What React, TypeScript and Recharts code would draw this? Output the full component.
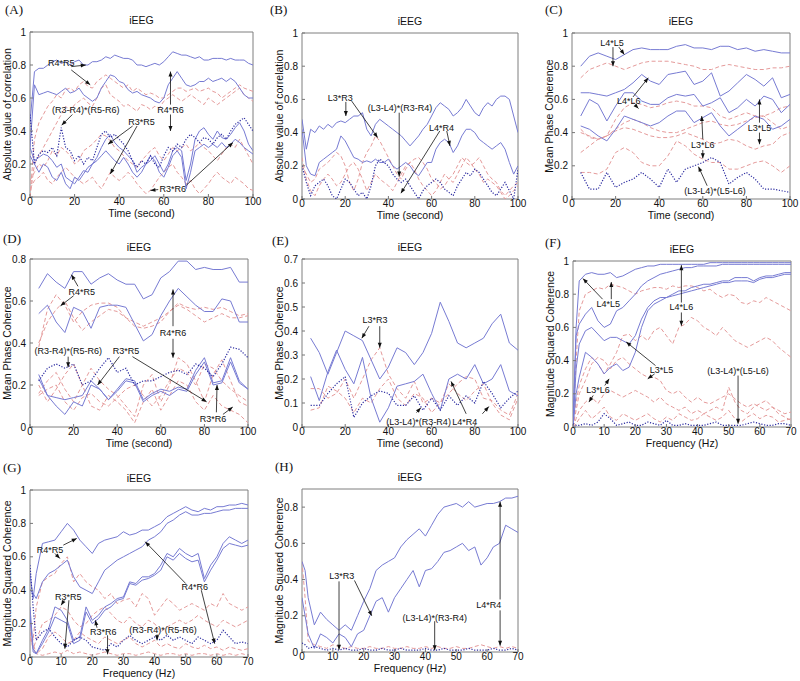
import React from 'react';
import {
  LineChart, Line, XAxis, YAxis, ReferenceArea, ReferenceLine, ReferenceDot,
} from 'recharts';

const BLUE = '#777bd3';
const RED = '#e59a9a';
const DOT = '#2b2ba0';
const SANS = "'Liberation Sans', Arial, sans-serif";
const SERIF = "'Liberation Serif', 'Times New Roman', serif";

// x grids
const tFine = [0, 2, 4, 6, 8, 10, 12, 14, 16, 18, 20, 22, 24, 26, 28, 30, 32, 34, 36, 38, 40, 42, 44, 46, 48, 50,
  52, 54, 56, 58, 60, 62, 64, 66, 68, 70, 72, 74, 76, 78, 80, 82, 84, 86, 88, 90, 92, 94, 96, 98, 100];
const tCoarse = [4, 8, 12, 16, 20, 24, 28, 32, 36, 40, 44, 48, 52, 56, 60, 64, 68, 72, 76, 80, 84, 88, 92, 96, 100];
const freq = [0, 1, 2, 4, 6, 8, 10, 12, 14, 16, 18, 20, 22, 24, 26, 28, 30, 32, 34, 36, 38, 40, 42, 44, 46, 48, 50,
  52, 54, 56, 58, 60, 62, 64, 66, 68, 70];

const timeTicks = [0, 20, 40, 60, 80, 100];
const freqTicks = [0, 10, 20, 30, 40, 50, 60, 70];
const unitTicks = [0, 0.2, 0.4, 0.6, 0.8, 1];
const dTicks = [0, 0.2, 0.4, 0.6, 0.8];
const eTicks = [0, 0.1, 0.2, 0.3, 0.4, 0.5, 0.6, 0.7];

// (A) absolute correlation, R contacts
const aR4R5 = [0.45, 0.76, 0.78, 0.78, 0.8, 0.82, 0.83, 0.81, 0.82, 0.8, 0.82, 0.83, 0.8, 0.8, 0.82, 0.82, 0.83, 0.85, 0.84, 0.86,
  0.85, 0.84, 0.84, 0.83, 0.8, 0.8, 0.79, 0.8, 0.81, 0.8, 0.82, 0.85, 0.88, 0.87, 0.86, 0.86, 0.85, 0.84, 0.85, 0.83,
  0.83, 0.84, 0.84, 0.84, 0.83, 0.84, 0.83, 0.83, 0.83, 0.81, 0.8];
const aR4R6 = [0.3, 0.68, 0.62, 0.63, 0.64, 0.63, 0.62, 0.64, 0.66, 0.63, 0.64, 0.66, 0.62, 0.6, 0.58, 0.6, 0.66, 0.7, 0.74, 0.73,
  0.7, 0.69, 0.65, 0.63, 0.64, 0.62, 0.61, 0.6, 0.58, 0.57, 0.6, 0.68, 0.72, 0.76, 0.72, 0.68, 0.67, 0.68, 0.7, 0.7,
  0.72, 0.7, 0.71, 0.72, 0.7, 0.72, 0.7, 0.66, 0.62, 0.6, 0.6];
const aR4R5r = [0, 0.35, 0.45, 0.5, 0.55, 0.58, 0.62, 0.6, 0.65, 0.66, 0.64, 0.68, 0.7, 0.67, 0.66, 0.7, 0.72, 0.74, 0.72, 0.7,
  0.68, 0.66, 0.68, 0.64, 0.66, 0.64, 0.62, 0.63, 0.62, 0.6, 0.6, 0.62, 0.64, 0.66, 0.66, 0.64, 0.65, 0.66, 0.64, 0.65,
  0.66, 0.64, 0.63, 0.6, 0.62, 0.64, 0.66, 0.68, 0.66, 0.65, 0.64];
const aR4R6r = [0, 0.2, 0.25, 0.3, 0.35, 0.4, 0.45, 0.5, 0.55, 0.52, 0.56, 0.58, 0.6, 0.57, 0.55, 0.6, 0.66, 0.68, 0.62, 0.6,
  0.58, 0.55, 0.56, 0.54, 0.52, 0.56, 0.55, 0.53, 0.55, 0.54, 0.58, 0.6, 0.62, 0.6, 0.58, 0.6, 0.62, 0.6, 0.58, 0.56,
  0.6, 0.58, 0.56, 0.58, 0.6, 0.62, 0.64, 0.66, 0.62, 0.6, 0.58];
const aDiff = [0.5, 0.2, 0.26, 0.28, 0.27, 0.3, 0.25, 0.42, 0.3, 0.28, 0.22, 0.25, 0.2, 0.24, 0.22, 0.3, 0.38, 0.4, 0.36, 0.38,
  0.35, 0.32, 0.28, 0.22, 0.18, 0.22, 0.2, 0.25, 0.2, 0.18, 0.25, 0.3, 0.28, 0.32, 0.3, 0.35, 0.38, 0.36, 0.33, 0.36,
  0.35, 0.32, 0.36, 0.38, 0.35, 0.4, 0.44, 0.46, 0.48, 0.44, 0.4];
const aR3R5 = [0.3, 0.22, 0.24, 0.26, 0.25, 0.22, 0.18, 0.2, 0.12, 0.1, 0.08, 0.12, 0.16, 0.15, 0.2, 0.24, 0.3, 0.35, 0.38, 0.33,
  0.3, 0.28, 0.25, 0.22, 0.15, 0.18, 0.2, 0.22, 0.25, 0.2, 0.15, 0.2, 0.28, 0.3, 0.28, 0.1, 0.2, 0.35, 0.4, 0.42,
  0.38, 0.35, 0.4, 0.36, 0.35, 0.38, 0.42, 0.45, 0.4, 0.32, 0.28];
const aR3R6 = [0.25, 0.2, 0.15, 0.2, 0.18, 0.12, 0.1, 0.15, 0.08, 0.05, 0.12, 0.1, 0.14, 0.18, 0.2, 0.22, 0.25, 0.28, 0.25, 0.22,
  0.2, 0.24, 0.2, 0.15, 0.12, 0.15, 0.2, 0.25, 0.22, 0.15, 0.12, 0.18, 0.25, 0.28, 0.24, 0.05, 0.15, 0.28, 0.3, 0.32,
  0.3, 0.32, 0.3, 0.33, 0.3, 0.32, 0.35, 0.33, 0.3, 0.28, 0.26];
const aR3R5r = [0.1, 0.15, 0.2, 0.18, 0.22, 0.28, 0.25, 0.3, 0.28, 0.25, 0.2, 0.22, 0.28, 0.3, 0.32, 0.35, 0.38, 0.37, 0.34, 0.3,
  0.28, 0.25, 0.22, 0.2, 0.18, 0.22, 0.25, 0.28, 0.3, 0.25, 0.22, 0.26, 0.3, 0.28, 0.3, 0.32, 0.28, 0.3, 0.33, 0.3,
  0.28, 0.25, 0.22, 0.26, 0.3, 0.32, 0.3, 0.35, 0.3, 0.25, 0.2];
const aR3R6r = [0.05, 0.1, 0.12, 0.15, 0.1, 0.08, 0.12, 0.15, 0.18, 0.15, 0.12, 0.1, 0.08, 0.1, 0.12, 0.08, 0.05, 0.1, 0.15, 0.12,
  0.1, 0.12, 0.15, 0.12, 0.08, 0.05, 0.02, 0.04, 0.08, 0.12, 0.15, 0.18, 0.2, 0.15, 0.12, 0.08, 0.1, 0.05, 0.02, 0.05,
  0.08, 0.12, 0.15, 0.12, 0.1, 0.08, 0.12, 0.1, 0.08, 0.05, 0.04];

// (B) absolute correlation, L x R
const bL3R3 = [0.48, 0.3, 0.42, 0.4, 0.44, 0.42, 0.45, 0.43, 0.46, 0.47, 0.46, 0.48, 0.5, 0.5, 0.52, 0.42, 0.38, 0.45, 0.48, 0.46,
  0.44, 0.42, 0.4, 0.38, 0.35, 0.32, 0.35, 0.38, 0.42, 0.45, 0.5, 0.55, 0.58, 0.56, 0.54, 0.5, 0.52, 0.55, 0.6, 0.56,
  0.52, 0.5, 0.55, 0.58, 0.56, 0.6, 0.62, 0.62, 0.6, 0.5, 0.4];
const bL4R4 = [0.42, 0.2, 0.15, 0.14, 0.22, 0.24, 0.26, 0.28, 0.3, 0.38, 0.35, 0.3, 0.25, 0.24, 0.22, 0.23, 0.22, 0.24, 0.22, 0.22,
  0.24, 0.2, 0.18, 0.2, 0.22, 0.2, 0.16, 0.14, 0.18, 0.22, 0.22, 0.3, 0.34, 0.36, 0.34, 0.28, 0.32, 0.38, 0.42, 0.42,
  0.4, 0.36, 0.34, 0.32, 0.3, 0.32, 0.34, 0.3, 0.22, 0.15, 0.2];
const bDiff = [0.2, 0.1, 0.02, 0.08, 0.1, 0.12, 0.08, 0.02, 0, 0.06, 0.12, 0.1, 0.06, 0.02, 0.04, 0, 0.08, 0.2, 0.24, 0.22,
  0.2, 0.15, 0.12, 0.1, 0.12, 0.08, 0.04, 0, 0.05, 0.08, 0.1, 0.12, 0.1, 0.06, 0.04, 0.02, 0.08, 0.12, 0.16, 0.14,
  0.18, 0.16, 0.12, 0.08, 0.04, 0.02, 0.06, 0.1, 0.05, 0, 0.18];
const bL3R3r = [0.2, 0.15, 0.1, 0.12, 0.18, 0.2, 0.22, 0.25, 0.28, 0.26, 0.2, 0.1, 0.05, 0.12, 0.22, 0.28, 0.32, 0.38, 0.35, 0.3,
  0.25, 0.2, 0.15, 0.12, 0.18, 0.22, 0.24, 0.25, 0.22, 0.18, 0.12, 0.1, 0.06, 0.08, 0.12, 0.15, 0.2, 0.25, 0.22, 0.2,
  0.22, 0.25, 0.2, 0.15, 0.12, 0.1, 0.05, 0.02, 0.05, 0.08, 0.1];
const bL4R4r = [0.25, 0.12, 0.05, 0.02, 0.08, 0.12, 0.15, 0.12, 0.08, 0.1, 0.15, 0.2, 0.22, 0.18, 0.12, 0.05, 0.1, 0.15, 0.12, 0.1,
  0.08, 0.05, 0.1, 0.15, 0.2, 0.22, 0.18, 0.12, 0.08, 0.05, 0.02, 0.05, 0.1, 0.15, 0.12, 0.1, 0.15, 0.2, 0.25, 0.22,
  0.18, 0.15, 0.1, 0.12, 0.1, 0.08, 0.04, 0, 0.02, 0.05, 0.08];

// (C) mean phase coherence, L contacts
const cL4L5 = [0.8, 0.86, 0.88, 0.86, 0.84, 0.87, 0.9, 0.91, 0.9, 0.9, 0.9, 0.92, 0.93, 0.91, 0.91, 0.9, 0.92, 0.92, 0.9, 0.91, 0.89, 0.9, 0.89, 0.88, 0.88];
const cL4L5r = [0.73, 0.78, 0.8, 0.82, 0.8, 0.78, 0.8, 0.82, 0.83, 0.83, 0.83, 0.82, 0.81, 0.8, 0.78, 0.78, 0.8, 0.81, 0.8, 0.79, 0.78, 0.78, 0.79, 0.79, 0.8];
const cL4L6 = [0.64, 0.64, 0.63, 0.62, 0.64, 0.66, 0.7, 0.75, 0.71, 0.69, 0.75, 0.76, 0.77, 0.69, 0.71, 0.76, 0.62, 0.65, 0.7, 0.75, 0.72, 0.68, 0.73, 0.61, 0.63];
const cL3L5 = [0.5, 0.6, 0.57, 0.47, 0.56, 0.64, 0.64, 0.59, 0.57, 0.57, 0.61, 0.63, 0.62, 0.63, 0.56, 0.58, 0.61, 0.52, 0.55, 0.6, 0.56, 0.62, 0.6, 0.52, 0.57];
const cL3L6 = [0.44, 0.42, 0.38, 0.35, 0.42, 0.5, 0.48, 0.46, 0.44, 0.46, 0.5, 0.53, 0.53, 0.46, 0.49, 0.52, 0.44, 0.38, 0.42, 0.46, 0.5, 0.48, 0.42, 0.44, 0.48];
const cL4L6r = [0.42, 0.37, 0.36, 0.38, 0.48, 0.55, 0.58, 0.57, 0.55, 0.56, 0.58, 0.59, 0.58, 0.56, 0.56, 0.55, 0.5, 0.48, 0.5, 0.52, 0.5, 0.5, 0.52, 0.55, 0.56];
const cL3L5r = [0.4, 0.38, 0.36, 0.38, 0.42, 0.46, 0.48, 0.46, 0.43, 0.41, 0.4, 0.4, 0.42, 0.44, 0.46, 0.47, 0.45, 0.44, 0.45, 0.47, 0.49, 0.5, 0.46, 0.42, 0.44];
const cL3L6r = [0.28, 0.32, 0.36, 0.38, 0.41, 0.43, 0.42, 0.4, 0.38, 0.37, 0.37, 0.38, 0.4, 0.38, 0.36, 0.33, 0.34, 0.36, 0.35, 0.32, 0.3, 0.32, 0.33, 0.38, 0.4];
const cDiffR = [0.16, 0.16, 0.15, 0.18, 0.28, 0.31, 0.28, 0.22, 0.2, 0.2, 0.26, 0.35, 0.32, 0.27, 0.24, 0.22, 0.22, 0.18, 0.18, 0.2, 0.22, 0.23, 0.2, 0.16, 0.2];
const cDiff = [0.16, 0.06, 0.06, 0.16, 0.07, 0.1, 0.12, 0.16, 0.12, 0.07, 0.18, 0.1, 0.18, 0.2, 0.22, 0.25, 0.22, 0.09, 0.13, 0.16, 0.12, 0.06, 0.06, 0.05, 0.04];

// (D) mean phase coherence, R contacts
const dR4R5 = [0.66, 0.73, 0.69, 0.66, 0.74, 0.74, 0.68, 0.71, 0.73, 0.7, 0.68, 0.68, 0.61, 0.63, 0.71, 0.74, 0.79, 0.79, 0.75, 0.76, 0.75, 0.75, 0.76, 0.69, 0.69];
const dR4R6 = [0.54, 0.58, 0.5, 0.45, 0.57, 0.55, 0.47, 0.57, 0.58, 0.58, 0.57, 0.49, 0.41, 0.44, 0.53, 0.6, 0.66, 0.62, 0.58, 0.55, 0.55, 0.61, 0.6, 0.5, 0.5];
const dR4R5r = [0.38, 0.56, 0.63, 0.58, 0.5, 0.55, 0.58, 0.59, 0.59, 0.57, 0.52, 0.48, 0.47, 0.48, 0.5, 0.55, 0.59, 0.57, 0.56, 0.57, 0.56, 0.57, 0.55, 0.53, 0.54];
const dR4R6r = [0.4, 0.5, 0.56, 0.6, 0.52, 0.46, 0.5, 0.53, 0.56, 0.55, 0.52, 0.5, 0.48, 0.5, 0.52, 0.55, 0.58, 0.56, 0.53, 0.5, 0.52, 0.54, 0.52, 0.52, 0.53];
const dDiff = [0.22, 0.28, 0.3, 0.28, 0.3, 0.2, 0.22, 0.28, 0.33, 0.26, 0.28, 0.2, 0.22, 0.22, 0.24, 0.26, 0.27, 0.25, 0.3, 0.28, 0.24, 0.3, 0.38, 0.37, 0.33];
const dR3R5 = [0.25, 0.15, 0.14, 0.13, 0.14, 0.15, 0.22, 0.18, 0.13, 0.18, 0.23, 0.22, 0.13, 0.16, 0.18, 0.17, 0.19, 0.18, 0.27, 0.33, 0.21, 0.22, 0.33, 0.22, 0.18];
const dR3R6 = [0.23, 0.15, 0.1, 0.06, 0.12, 0.1, 0.2, 0.18, 0.13, 0.17, 0.22, 0.21, 0.12, 0.15, 0.17, 0.15, 0.18, 0.17, 0.25, 0.31, 0.2, 0.21, 0.31, 0.21, 0.18];
const dR3R5r = [0.16, 0.22, 0.26, 0.18, 0.12, 0.2, 0.28, 0.22, 0.18, 0.15, 0.1, 0.05, 0.2, 0.25, 0.12, 0.2, 0.33, 0.3, 0.22, 0.12, 0.25, 0.32, 0.22, 0.12, 0.1];
const dR3R6r = [0.2, 0.12, 0.18, 0.25, 0.3, 0.2, 0.1, 0.08, 0.15, 0.12, 0.08, 0.02, 0.12, 0.18, 0.08, 0.15, 0.22, 0.2, 0.12, 0.08, 0.15, 0.1, 0.08, 0.06, 0.02];
const dDiffR = [0.15, 0.18, 0.2, 0.12, 0.08, 0.14, 0.16, 0.12, 0.1, 0.14, 0.18, 0.2, 0.15, 0.1, 0.15, 0.22, 0.28, 0.26, 0.2, 0.3, 0.28, 0.22, 0.18, 0.15, 0.12];

// (E) mean phase coherence, L x R
const eL3R3 = [0.37, 0.31, 0.22, 0.31, 0.4, 0.38, 0.36, 0.28, 0.2, 0.25, 0.33, 0.31, 0.26, 0.31, 0.39, 0.52, 0.44, 0.35, 0.33, 0.35, 0.37, 0.43, 0.47, 0.35, 0.32];
const eL4R4 = [0.21, 0.11, 0.23, 0.32, 0.24, 0.18, 0.29, 0.12, 0.02, 0.08, 0.17, 0.18, 0.19, 0.22, 0.14, 0.07, 0.2, 0.22, 0.2, 0.26, 0.18, 0.2, 0.26, 0.15, 0.13];
const eDiff = [0.09, 0.09, 0.14, 0.18, 0.21, 0.04, 0.1, 0.13, 0.15, 0.14, 0.09, 0.09, 0.13, 0.07, 0.12, 0.07, 0.13, 0.09, 0.13, 0.1, 0.19, 0.14, 0.08, 0.12, 0.15];
const eL3R3r = [0.16, 0.16, 0.12, 0.14, 0.2, 0.12, 0.2, 0.28, 0.33, 0.22, 0.16, 0.12, 0.19, 0.1, 0.12, 0.1, 0.14, 0.18, 0.21, 0.2, 0.12, 0.11, 0.07, 0.05, 0.14];
const eL4R4r = [0.07, 0.08, 0.17, 0.15, 0.12, 0.06, 0.12, 0.1, 0.16, 0.2, 0.12, 0.09, 0.14, 0.12, 0.06, 0.1, 0.18, 0.14, 0.11, 0.15, 0.18, 0.1, 0.05, 0.03, 0.12];

// (F) magnitude squared coherence, L contacts
const fL4L5 = [0.02, 0.6, 0.88, 0.92, 0.93, 0.92, 0.92, 0.93, 0.9, 0.91, 0.93, 0.95, 0.96, 0.97, 0.97, 0.98, 0.98, 0.98, 0.98,
  0.98, 0.98, 0.98, 0.98, 0.99, 0.99, 0.99, 0.99, 0.99, 0.99, 0.99, 0.99, 0.99, 0.99, 0.99, 0.99, 0.99, 0.99];
const fL4L6 = [0, 0.55, 0.62, 0.68, 0.72, 0.64, 0.6, 0.62, 0.7, 0.72, 0.76, 0.8, 0.85, 0.88, 0.9, 0.92, 0.93, 0.94, 0.95,
  0.96, 0.96, 0.97, 0.97, 0.97, 0.97, 0.98, 0.98, 0.98, 0.98, 0.98, 0.98, 0.98, 0.98, 0.98, 0.98, 0.98, 0.98];
const fL3L5 = [0, 0.35, 0.5, 0.58, 0.6, 0.56, 0.52, 0.54, 0.54, 0.52, 0.5, 0.55, 0.65, 0.72, 0.76, 0.78, 0.78, 0.8, 0.82,
  0.82, 0.84, 0.85, 0.86, 0.86, 0.87, 0.88, 0.88, 0.9, 0.9, 0.9, 0.88, 0.9, 0.91, 0.91, 0.92, 0.93, 0.93];
const fL3L6 = [0, 0.2, 0.3, 0.45, 0.42, 0.38, 0.32, 0.36, 0.38, 0.34, 0.36, 0.45, 0.6, 0.7, 0.74, 0.76, 0.78, 0.79, 0.8,
  0.81, 0.82, 0.83, 0.84, 0.85, 0.86, 0.87, 0.87, 0.88, 0.88, 0.88, 0.87, 0.89, 0.9, 0.9, 0.91, 0.92, 0.92];
const fL4L5r = [0, 0.4, 0.7, 0.8, 0.82, 0.84, 0.83, 0.86, 0.85, 0.84, 0.82, 0.8, 0.82, 0.83, 0.84, 0.84, 0.83, 0.85, 0.84,
  0.85, 0.85, 0.84, 0.82, 0.83, 0.8, 0.78, 0.8, 0.79, 0.75, 0.74, 0.76, 0.75, 0.78, 0.76, 0.74, 0.72, 0.7];
const fL4L6r = [0, 0.15, 0.25, 0.35, 0.42, 0.38, 0.32, 0.38, 0.45, 0.55, 0.56, 0.52, 0.55, 0.52, 0.58, 0.6, 0.55, 0.5, 0.6,
  0.62, 0.66, 0.64, 0.6, 0.58, 0.55, 0.6, 0.56, 0.52, 0.5, 0.48, 0.5, 0.52, 0.54, 0.52, 0.48, 0.45, 0.42];
const fL3L5r = [0, 0.1, 0.2, 0.28, 0.38, 0.42, 0.4, 0.35, 0.4, 0.42, 0.38, 0.35, 0.32, 0.3, 0.3, 0.28, 0.22, 0.2, 0.22,
  0.18, 0.15, 0.18, 0.15, 0.14, 0.16, 0.18, 0.2, 0.17, 0.14, 0.12, 0.14, 0.12, 0.1, 0.12, 0.1, 0.08, 0.09];
const fL3L6r = [0, 0.05, 0.1, 0.15, 0.18, 0.14, 0.2, 0.22, 0.2, 0.18, 0.2, 0.22, 0.2, 0.18, 0.15, 0.18, 0.14, 0.12, 0.1,
  0.12, 0.08, 0.1, 0.08, 0.1, 0.12, 0.1, 0.24, 0.15, 0.1, 0.08, 0.12, 0.14, 0.16, 0.12, 0.08, 0.06, 0.04];
const fDiffR = [0, 0.02, 0.05, 0.1, 0.05, 0.08, 0.12, 0.06, 0.04, 0.08, 0.06, 0.04, 0.06, 0.08, 0.05, 0.03, 0.06, 0.04, 0.08,
  0.06, 0.04, 0.05, 0.08, 0.06, 0.04, 0.06, 0.1, 0.05, 0.03, 0.06, 0.08, 0.05, 0.07, 0.06, 0.03, 0.04, 0.05];
const fDiff = [0.02, 0.01, 0.01, 0.02, 0.01, 0.03, 0.08, 0.05, 0.01, 0.02, 0.03, 0.01, 0.01, 0.03, 0.02, 0.01, 0.04, 0.01, 0.01,
  0.02, 0.01, 0.01, 0.01, 0.02, 0.03, 0.01, 0.01, 0.01, 0.01, 0.02, 0.03, 0.02, 0.01, 0.01, 0.02, 0.02, 0.01];

// (G) magnitude squared coherence, R contacts
const gR4R5 = [0.5, 0.35, 0.5, 0.68, 0.69, 0.7, 0.75, 0.8, 0.76, 0.7, 0.66, 0.62, 0.68, 0.7, 0.71, 0.72, 0.75, 0.73, 0.74,
  0.76, 0.76, 0.78, 0.8, 0.84, 0.86, 0.88, 0.9, 0.88, 0.87, 0.89, 0.88, 0.9, 0.9, 0.91, 0.91, 0.92, 0.91];
const gR4R6 = [0.4, 0.38, 0.35, 0.45, 0.5, 0.52, 0.55, 0.58, 0.48, 0.42, 0.4, 0.38, 0.45, 0.52, 0.55, 0.58, 0.6, 0.62, 0.64,
  0.66, 0.7, 0.72, 0.75, 0.8, 0.82, 0.85, 0.87, 0.85, 0.85, 0.86, 0.86, 0.87, 0.88, 0.88, 0.89, 0.89, 0.89];
const gR3R5 = [0.3, 0.05, 0.02, 0.1, 0.17, 0.3, 0.28, 0.22, 0.1, 0.12, 0.3, 0.22, 0.25, 0.3, 0.32, 0.35, 0.36, 0.45, 0.44,
  0.48, 0.48, 0.5, 0.55, 0.62, 0.6, 0.65, 0.62, 0.6, 0.62, 0.47, 0.55, 0.6, 0.68, 0.72, 0.7, 0.68, 0.7];
const gR3R6 = [0.25, 0.03, 0.02, 0.08, 0.15, 0.24, 0.22, 0.2, 0.08, 0.1, 0.27, 0.2, 0.23, 0.28, 0.3, 0.34, 0.35, 0.44, 0.43,
  0.46, 0.47, 0.49, 0.52, 0.6, 0.58, 0.62, 0.59, 0.57, 0.58, 0.45, 0.52, 0.58, 0.65, 0.68, 0.67, 0.66, 0.67];
const gDiff = [0.55, 0.3, 0.1, 0.15, 0.17, 0.12, 0.08, 0.06, 0.1, 0.12, 0.1, 0.06, 0.05, 0.04, 0.08, 0.06, 0.1, 0.13, 0.1,
  0.08, 0.1, 0.12, 0.1, 0.13, 0.1, 0.12, 0.1, 0.08, 0.12, 0.1, 0.08, 0.1, 0.16, 0.12, 0.08, 0.09, 0.08];
const gR4R5r = [0.2, 0.1, 0.3, 0.45, 0.48, 0.5, 0.56, 0.6, 0.45, 0.5, 0.45, 0.42, 0.4, 0.35, 0.38, 0.32, 0.34, 0.35, 0.3,
  0.38, 0.35, 0.25, 0.3, 0.35, 0.32, 0.28, 0.3, 0.32, 0.3, 0.28, 0.32, 0.3, 0.38, 0.32, 0.3, 0.28, 0.3];
const gR4R6r = [0.15, 0.05, 0.1, 0.2, 0.22, 0.25, 0.3, 0.28, 0.22, 0.18, 0.2, 0.25, 0.28, 0.3, 0.26, 0.22, 0.2, 0.24, 0.2,
  0.18, 0.22, 0.2, 0.15, 0.18, 0.2, 0.22, 0.2, 0.22, 0.25, 0.22, 0.2, 0.18, 0.22, 0.2, 0.18, 0.2, 0.22];
const gR3R5r = [0.12, 0.05, 0.02, 0.05, 0.12, 0.15, 0.12, 0.08, 0.1, 0.15, 0.12, 0.1, 0.08, 0.12, 0.1, 0.08, 0.1, 0.12, 0.08,
  0.06, 0.08, 0.1, 0.06, 0.08, 0.06, 0.05, 0.08, 0.06, 0.05, 0.07, 0.05, 0.06, 0.04, 0.06, 0.05, 0.04, 0.05];
const gR3R6r = [0.1, 0.08, 0.02, 0.01, 0.02, 0.03, 0.02, 0.04, 0.02, 0.03, 0.02, 0.01, 0.02, 0.03, 0.02, 0.01, 0.02, 0.02, 0.01,
  0.02, 0.03, 0.02, 0.01, 0.02, 0.02, 0.01, 0.02, 0.01, 0.02, 0.02, 0.01, 0.02, 0.01, 0.02, 0.01, 0.02, 0.01];

// (H) magnitude squared coherence, L x R
const hL4R4 = [0.5, 0.45, 0.3, 0.15, 0.22, 0.18, 0.15, 0.12, 0.15, 0.12, 0.2, 0.28, 0.35, 0.45, 0.48, 0.5, 0.52, 0.58, 0.62,
  0.65, 0.68, 0.64, 0.7, 0.76, 0.8, 0.81, 0.82, 0.8, 0.83, 0.8, 0.81, 0.82, 0.82, 0.83, 0.85, 0.85, 0.86];
const hL3R3 = [0.3, 0.2, 0.1, 0.02, 0.1, 0.08, 0.05, 0.1, 0.08, 0.03, 0.1, 0.12, 0.2, 0.28, 0.3, 0.22, 0.3, 0.35, 0.4,
  0.45, 0.36, 0.45, 0.46, 0.5, 0.55, 0.56, 0.58, 0.6, 0.56, 0.58, 0.48, 0.52, 0.58, 0.6, 0.7, 0.68, 0.66];
const hL3R3r = [0.5, 0.3, 0.06, 0.04, 0.03, 0.02, 0.04, 0.03, 0.02, 0.03, 0.02, 0.02, 0.03, 0.02, 0.02, 0.03, 0.02, 0.02, 0.03,
  0.02, 0.02, 0.03, 0.02, 0.03, 0.02, 0.02, 0.03, 0.02, 0.02, 0.03, 0.04, 0.03, 0.02, 0.03, 0.02, 0.03, 0.02];
const hDiff = [0.05, 0.04, 0.02, 0.03, 0.02, 0.01, 0.02, 0.01, 0.02, 0.01, 0.01, 0.02, 0.01, 0.01, 0.02, 0.01, 0.01, 0.02, 0.01,
  0.01, 0.01, 0.02, 0.01, 0.01, 0.02, 0.01, 0.01, 0.01, 0.02, 0.01, 0.01, 0.01, 0.02, 0.01, 0.01, 0.02, 0.01];

const LABEL_ABS = 'Absolute value of correlation';
const LABEL_MPC = 'Mean Phase Coherence';
const LABEL_MSC = 'Magnitude Squared Coherence';
const LABEL_TIME = 'Time (second)';
const LABEL_FREQ = 'Frequency (Hz)';

const red = (values) => ({ values, kind: 'red' });
const blue = (values) => ({ values, kind: 'blue' });
const dot = (values) => ({ values, kind: 'dot' });

const panels = [
  {
    letter: '(A)', letterPos: [5, 2], rect: { l: 30, t: 32, r: 253, b: 197 },
    x: tFine, xDomain: [0, 100], xTicks: timeTicks, yDomain: [0, 1], yTicks: unitTicks,
    xLabel: LABEL_TIME, yLabel: LABEL_ABS,
    series: [red(aR4R5r), red(aR4R6r), red(aR3R5r), red(aR3R6r), blue(aR4R5), blue(aR4R6), blue(aR3R5), blue(aR3R6), dot(aDiff)],
    labels: [['R4*R5', 14, 0.815], ['R4*R6', 63, 0.53], ['(R3-R4)*(R5-R6)', 25, 0.53], ['R3*R5', 50, 0.455], ['R3*R6', 64, 0.05]],
    arrows: [[18.5, 0.79, 25, 0.8], [18.5, 0.77, 27, 0.68], [63, 0.56, 63, 0.76], [63, 0.5, 63, 0.4], [19, 0.5, 14.2, 0.435],
      [46, 0.43, 35, 0.32], [48, 0.43, 36, 0.14], [57.5, 0.045, 54, 0.04], [70, 0.07, 91, 0.33]],
  },
  {
    letter: '(B)', letterPos: [270, 2], rect: { l: 302, t: 33, r: 518, b: 199 },
    x: tFine, xDomain: [0, 100], xTicks: timeTicks, yDomain: [0, 1], yTicks: unitTicks,
    xLabel: LABEL_TIME, yLabel: LABEL_ABS,
    series: [red(bL3R3r), red(bL4R4r), blue(bL3R3), blue(bL4R4), dot(bDiff)],
    labels: [['L3*R3', 17.7, 0.61], ['(L3-L4)*(R3-R4)', 45.4, 0.55], ['L4*R4', 64.6, 0.43]],
    arrows: [[20.3, 0.585, 20.3, 0.5], [23, 0.59, 35, 0.37], [45, 0.52, 45, 0.135], [63.8, 0.41, 45.8, 0.035], [67, 0.41, 68.5, 0.32]],
  },
  {
    letter: '(C)', letterPos: [545, 2], rect: { l: 572, t: 33, r: 790, b: 199 },
    x: tCoarse, xDomain: [0, 100], xTicks: timeTicks, yDomain: [0, 1], yTicks: unitTicks,
    xLabel: LABEL_TIME, yLabel: LABEL_MPC,
    series: [red(cL4L5r), red(cL4L6r), red(cL3L5r), red(cL3L6r), red(cDiffR), blue(cL4L5), blue(cL4L6), blue(cL3L5), blue(cL3L6), dot(cDiff)],
    labels: [['L4*L5', 18.3, 0.94], ['L4*L6', 26, 0.59], ['L3*L6', 60, 0.326], ['L3*L5', 86, 0.43], ['(L3-L4)*(L5-L6)', 65.6, 0.05]],
    arrows: [[21.5, 0.915, 24, 0.87], [18.8, 0.915, 18.8, 0.8], [28, 0.615, 35, 0.73], [29, 0.565, 30.5, 0.545],
      [60, 0.36, 59.5, 0.5], [60, 0.295, 60, 0.245], [86, 0.46, 86, 0.6], [86, 0.4, 86, 0.33], [62, 0.08, 58, 0.195]],
  },
  {
    letter: '(D)', letterPos: [3, 231], rect: { l: 30, t: 259, r: 248, b: 427 },
    x: tCoarse, xDomain: [0, 100], xTicks: timeTicks, yDomain: [0, 0.8], yTicks: dTicks,
    xLabel: LABEL_TIME, yLabel: LABEL_MPC,
    series: [red(dR4R5r), red(dR4R6r), red(dR3R5r), red(dR3R6r), red(dDiffR), blue(dR4R5), blue(dR4R6), blue(dR3R5), blue(dR3R6), dot(dDiff)],
    labels: [['R4*R5', 23.7, 0.645], ['R4*R6', 65.6, 0.45], ['(R3-R4)*(R5-R6)', 17.5, 0.36], ['R3*R5', 44, 0.36], ['R3*R6', 84, 0.04]],
    arrows: [[22, 0.67, 19, 0.725], [20, 0.625, 14, 0.577], [65.6, 0.48, 65.6, 0.655], [65.6, 0.42, 65.6, 0.33],
      [17.5, 0.335, 17.5, 0.285], [41, 0.335, 31, 0.2], [47, 0.335, 81, 0.12], [85.5, 0.07, 85.8, 0.2], [88.5, 0.06, 93, 0.095]],
  },
  {
    letter: '(E)', letterPos: [272, 233], rect: { l: 302, t: 259, r: 518, b: 427 },
    x: tCoarse, xDomain: [0, 100], xTicks: timeTicks, yDomain: [0, 0.7], yTicks: eTicks,
    xLabel: LABEL_TIME, yLabel: LABEL_MPC,
    series: [red(eL3R3r), red(eL4R4r), blue(eL3R3), blue(eL4R4), dot(eDiff)],
    labels: [['L3*R3', 33.8, 0.446], ['(L3-L4)*(R3-R4)', 54, 0.021], ['L4*R4', 75.4, 0.021]],
    arrows: [[31, 0.42, 27.7, 0.37], [36, 0.42, 36, 0.33], [53, 0.06, 55, 0.08], [76, 0.055, 69, 0.19], [83.5, 0.055, 86.5, 0.085]],
  },
  {
    letter: '(F)', letterPos: [545, 235], rect: { l: 573, t: 261, r: 791, b: 427 },
    x: freq, xDomain: [0, 70], xTicks: freqTicks, yDomain: [0, 1], yTicks: unitTicks,
    xLabel: LABEL_FREQ, yLabel: LABEL_MSC,
    series: [red(fL4L5r), red(fL4L6r), red(fL3L5r), red(fL3L6r), red(fDiffR), blue(fL4L5), blue(fL4L6), blue(fL3L5), blue(fL3L6), dot(fDiff)],
    labels: [['L4*L5', 11.3, 0.743], ['L4*L6', 34.8, 0.72], ['L3*L5', 28.4, 0.345], ['L3*L6', 8, 0.22], ['(L3-L4)*(L5-L6)', 53, 0.34]],
    arrows: [[9.5, 0.77, 3.2, 0.894], [12.3, 0.77, 12.3, 0.873], [34.8, 0.75, 34.8, 0.975], [34.8, 0.69, 34.8, 0.61],
      [26.5, 0.37, 17.1, 0.512], [26.2, 0.32, 24, 0.29], [10.2, 0.25, 11.6, 0.29], [6.5, 0.19, 5.1, 0.15], [53, 0.31, 53, 0.02]],
  },
  {
    letter: '(G)', letterPos: [3, 460], rect: { l: 30, t: 490, r: 248, b: 657 },
    x: freq, xDomain: [0, 70], xTicks: freqTicks, yDomain: [0, 1], yTicks: unitTicks,
    xLabel: LABEL_FREQ, yLabel: LABEL_MSC,
    series: [red(gR4R5r), red(gR4R6r), red(gR3R5r), red(gR3R6r), blue(gR4R5), blue(gR4R6), blue(gR3R5), blue(gR3R6), dot(gDiff)],
    labels: [['R4*R5', 6.4, 0.64], ['R4*R6', 52.9, 0.42], ['R3*R5', 12.3, 0.36], ['R3*R6', 23.5, 0.15], ['(R3-R4)*(R5-R6)', 42.7, 0.16]],
    arrows: [[10.7, 0.67, 15, 0.71], [8, 0.62, 9.6, 0.59], [50, 0.44, 37, 0.69], [55, 0.4, 59.3, 0.08], [11, 0.34, 10, 0.31],
      [12.5, 0.34, 11.2, 0.05], [21.5, 0.175, 21, 0.22], [24.9, 0.13, 24.9, 0.016], [40.8, 0.135, 40.8, 0.1]],
  },
  {
    letter: '(H)', letterPos: [275, 459], rect: { l: 302, t: 489, r: 518, b: 652 },
    x: freq, xDomain: [0, 70], xTicks: freqTicks, yDomain: [0, 0.9], yTicks: dTicks,
    xLabel: LABEL_FREQ, yLabel: LABEL_MSC,
    series: [red(hL3R3r), blue(hL4R4), blue(hL3R3), dot(hDiff)],
    labels: [['L3*R3', 12.9, 0.418], ['(L3-L4)*(R3-R4)', 43, 0.19], ['L4*R4', 60.5, 0.26]],
    arrows: [[17, 0.395, 22.6, 0.2], [12, 0.39, 12, 0.013], [43, 0.17, 43, 0.01], [64.2, 0.29, 64.2, 0.83], [64.2, 0.23, 64.2, 0.035]],
  },
];

const STYLE = {
  red: { stroke: RED, strokeDasharray: '4 2.5', strokeWidth: 1 },
  blue: { stroke: BLUE, strokeWidth: 1 },
  dot: { stroke: DOT, strokeDasharray: '1.2 1.6', strokeWidth: 1.2 },
};

const YW = 30;
const TOP = 10;
const RIGHT = 9;
const XH = 30;

function arrowShape(p) {
  const { x1, y1, x2, y2 } = p;
  const a = Math.atan2(y2 - y1, x2 - x1);
  const L = 5;
  const W = 2;
  const bx = x2 - L * Math.cos(a);
  const by = y2 - L * Math.sin(a);
  const pts = `${x2},${y2} ${bx + W * Math.sin(a)},${by - W * Math.cos(a)} ${bx - W * Math.sin(a)},${by + W * Math.cos(a)}`;
  return (
    <g>
      <line x1={x1} y1={y1} x2={x2} y2={y2} stroke="#111" strokeWidth={0.8} />
      <polygon points={pts} fill="#111" />
    </g>
  );
}

function Panel({ cfg }) {
  const { rect, x, series } = cfg;
  const plotW = rect.r - rect.l;
  const plotH = rect.b - rect.t;
  const data = x.map((xv, i) => {
    const row = { x: xv };
    series.forEach((s, j) => { row['s' + j] = s.values[i]; });
    return row;
  });

  const yLabel = (props) => {
    const vb = props.viewBox || { x: 0, y: TOP, width: YW, height: plotH };
    const lx = vb.x + 10.5;
    const ly = vb.y + vb.height / 2;
    return (
      <text x={lx} y={ly} transform={`rotate(-90 ${lx} ${ly})`} textAnchor="middle" fontSize={10.5} fill="#111">
        {cfg.yLabel}
      </text>
    );
  };

  return (
    <>
      <div style={{ position: 'absolute', left: cfg.letterPos[0], top: cfg.letterPos[1], fontFamily: SERIF, fontSize: 13, color: '#111' }}>
        {cfg.letter}
      </div>
      <div style={{ position: 'absolute', left: rect.l, top: rect.t - 18, width: plotW, textAlign: 'center', fontSize: 10.5, color: '#111' }}>
        iEEG
      </div>
      <div style={{ position: 'absolute', left: rect.l - YW, top: rect.t - TOP }}>
        <LineChart
          width={plotW + YW + RIGHT}
          height={plotH + TOP + XH}
          data={data}
          margin={{ top: TOP, right: RIGHT, left: 0, bottom: 0 }}
        >
          <XAxis
            type="number" dataKey="x" domain={cfg.xDomain} ticks={cfg.xTicks} interval={0} allowDataOverflow
            height={XH} tickSize={-3} tickMargin={4} axisLine={false} tickLine={{ stroke: '#777' }}
            tick={{ fontSize: 10, fill: '#111' }}
            label={{ value: cfg.xLabel, position: 'insideBottom', offset: 10, fontSize: 10.5, fill: '#111' }}
          />
          <YAxis
            type="number" domain={cfg.yDomain} ticks={cfg.yTicks} interval={0} allowDataOverflow
            width={YW} tickSize={-3} tickMargin={7} axisLine={false} tickLine={{ stroke: '#777' }}
            tick={{ fontSize: 10, fill: '#111' }}
            label={{ content: yLabel }}
          />
          <ReferenceArea
            x1={cfg.xDomain[0]} x2={cfg.xDomain[1]} y1={cfg.yDomain[0]} y2={cfg.yDomain[1]}
            fill="none" fillOpacity={0} stroke="#7f7f7f" strokeWidth={1} ifOverflow="visible"
          />
          {series.map((s, j) => (
            <Line
              key={'s' + j} type="linear" dataKey={'s' + j} dot={false} activeDot={false}
              isAnimationActive={false} {...STYLE[s.kind]}
            />
          ))}
          {cfg.arrows.map((a, k) => (
            <ReferenceLine
              key={'a' + k}
              segment={[{ x: a[0], y: a[1] }, { x: a[2], y: a[3] }]}
              ifOverflow="visible"
              shape={arrowShape}
            />
          ))}
          {cfg.labels.map((l, k) => (
            <ReferenceDot
              key={'l' + k} x={l[1]} y={l[2]} r={0} ifOverflow="visible"
              shape={(p) => (
                <text x={p.cx} y={p.cy} textAnchor="middle" dominantBaseline="central" fontSize={9} fill="#111">
                  {l[0]}
                </text>
              )}
            />
          ))}
        </LineChart>
      </div>
    </>
  );
}

export default function App() {
  return (
    <div style={{ position: 'absolute', left: 0, top: 0, width: 800, height: 681, overflow: 'hidden', background: '#fff', fontFamily: SANS }}>
      {panels.map((p) => <Panel key={p.letter} cfg={p} />)}
    </div>
  );
}
